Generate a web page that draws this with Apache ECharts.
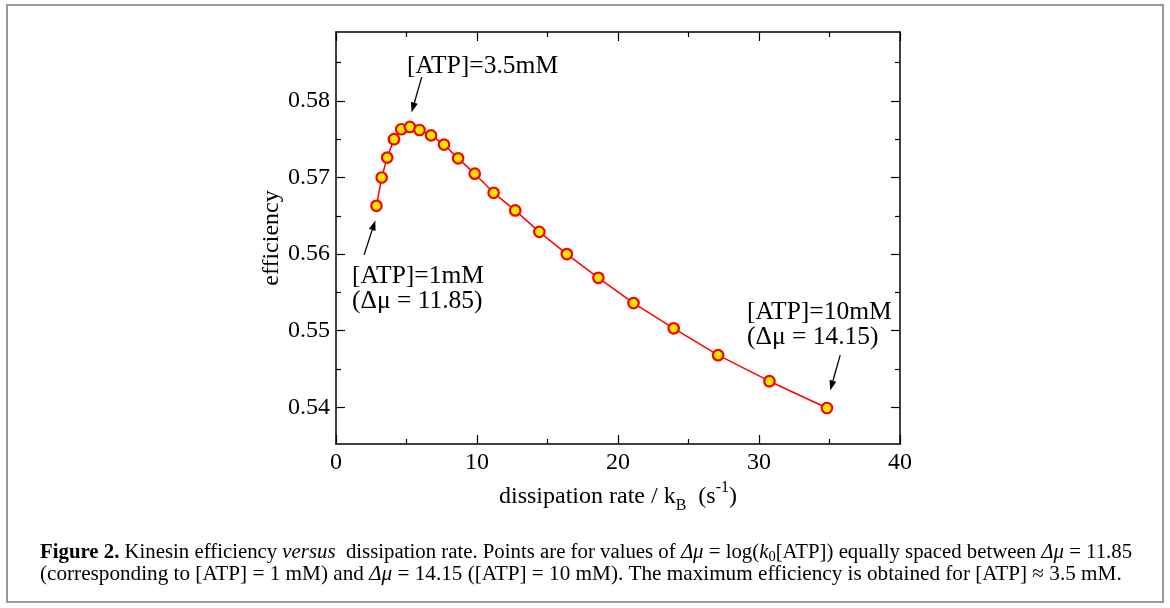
<!DOCTYPE html>
<html>
<head>
<meta charset="utf-8">
<script src="https://cdn.jsdelivr.net/npm/echarts@6/dist/echarts.min.js"></script>
<style>
html,body{margin:0;padding:0;background:#fff;}
#chart{width:1170px;height:608px;}
</style>
</head>
<body>
<div id="chart"></div>
<script>
// ---- data ----
const dissipationRate = [2.87, 3.24, 3.63, 4.11, 4.63, 5.24, 5.92, 6.74, 7.66, 8.66, 9.84, 11.18, 12.71, 14.42, 16.37, 18.61, 21.10, 23.95, 27.10, 30.74, 34.82];
const efficiency = [0.5663, 0.5700, 0.5726, 0.5750, 0.5763, 0.5766, 0.5762, 0.5755, 0.5743, 0.5725, 0.5705, 0.5680, 0.5657, 0.5629, 0.5600, 0.5569, 0.5536, 0.5503, 0.5468, 0.5434, 0.5399];
const yMajorTicks = [0.54, 0.55, 0.56, 0.57, 0.58];
const yMinorTicks = [0.545, 0.555, 0.565, 0.575, 0.585];
const xTickInterval = 10;
const annotations = [
  {lines: ['[ATP]=3.5mM'], from: [6.08, 0.5831], to: [5.36, 0.5785]},
  {lines: ['[ATP]=1mM', '(Δμ = 11.85)'], from: [1.99, 0.5599], to: [2.79, 0.5644]},
  {lines: ['[ATP]=10mM', '(Δμ = 14.15)'], from: [35.76, 0.5468], to: [35.05, 0.5422]}
];
const captionLine1 = '{b|Figure 2.} Kinesin efficiency {i|versus}  dissipation rate. Points are for values of {i|Δμ} = log({i|k}{sub|0}[ATP]) equally spaced between {i|Δμ} = 11.85';
const captionLine2 = '(corresponding to [ATP] = 1 mM) and {i|Δμ} = 14.15 ([ATP] = 10 mM). The maximum efficiency is obtained for [ATP] ≈ 3.5 mM.';

// ---- chart ----
const FONT = '"Liberation Serif", "Times New Roman", serif';
const chart = echarts.init(document.getElementById('chart'), null, {renderer: 'canvas'});
const GRID = {left: 336, top: 32, width: 564, height: 412};
function axisLine(show) { return {show: show, onZero: false, lineStyle: {color: '#000', width: 1.5}}; }

function yAxisDef(pos, ticks, len, labels, lineShow) {
  return {
    type: 'value', position: pos, min: 0.5352, max: 0.589,
    axisLine: axisLine(lineShow),
    splitLine: {show: false},
    axisTick: {show: true, inside: true, length: len, customValues: ticks, lineStyle: {color: '#000', width: 1.2}},
    axisLabel: labels ? {show: true, customValues: ticks, formatter: v => v.toFixed(2), fontFamily: FONT, fontSize: 24, color: '#000', margin: 6} : {show: false},
    name: labels ? 'efficiency' : '',
    nameLocation: 'middle', nameRotate: 90, nameGap: 52,
    nameTextStyle: {fontFamily: FONT, fontSize: 24, color: '#000'}
  };
}
function xAxisDef(pos, labels) {
  return {
    type: 'value', position: pos, min: 0, max: 40, interval: xTickInterval,
    axisLine: axisLine(true),
    splitLine: {show: false},
    axisTick: {show: true, inside: true, length: 9, lineStyle: {color: '#000', width: 1.2}},
    minorTick: {show: true, splitNumber: 2, length: 5, lineStyle: {color: '#000', width: 1.2}},
    minorSplitLine: {show: false},
    axisLabel: labels ? {show: true, fontFamily: FONT, fontSize: 24, color: '#000', margin: 7} : {show: false},
    name: labels ? 'dissipation rate / k{sub|B}  (s{sup|-1})' : '',
    nameLocation: 'middle', nameGap: 28,
    nameTextStyle: {
      fontFamily: FONT, fontSize: 24, color: '#000', lineHeight: 34,
      rich: {
        sub: {fontFamily: FONT, fontSize: 16, color: '#000', verticalAlign: 'bottom', lineHeight: 16},
        sup: {fontFamily: FONT, fontSize: 16, color: '#000', verticalAlign: 'top', lineHeight: 16}
      }
    }
  };
}

const option = {
  animation: false,
  backgroundColor: '#fff',
  grid: GRID,
  xAxis: [xAxisDef('bottom', true), xAxisDef('top', false)],
  yAxis: [
    yAxisDef('left', yMajorTicks, 9, true, true),
    yAxisDef('right', yMajorTicks, 9, false, true),
    yAxisDef('left', yMinorTicks, 5, false, false),
    yAxisDef('right', yMinorTicks, 5, false, false)
  ],
  series: [{
    type: 'line',
    xAxisIndex: 0, yAxisIndex: 0,
    data: dissipationRate.map((x, i) => [x, efficiency[i]]),
    symbol: 'circle', symbolSize: 10.5,
    lineStyle: {color: '#ff0000', width: 1.5},
    itemStyle: {color: '#eaea00', borderColor: '#ff0000', borderWidth: 2.2},
    z: 5
  }]
};
chart.setOption(option);

// annotations positioned from data coordinates
const graphics = [];
graphics.push({type: 'rect', shape: {x: 7, y: 5, width: 1156, height: 597}, style: {fill: 'none', stroke: '#999', lineWidth: 2}, silent: true});

function px(p) { return chart.convertToPixel({xAxisIndex: 0, yAxisIndex: 0}, p); }
function arrow(a, b) {
  const dx = b[0] - a[0], dy = b[1] - a[1];
  const L = Math.hypot(dx, dy), ux = dx / L, uy = dy / L;
  const hl = 10, hw = 3.5;
  const bx = b[0] - ux * hl, by = b[1] - uy * hl;
  graphics.push({type: 'line', shape: {x1: a[0], y1: a[1], x2: bx, y2: by}, style: {stroke: '#000', lineWidth: 1.3}, z: 10});
  graphics.push({type: 'polygon', shape: {points: [[b[0], b[1]], [bx - uy * hw, by + ux * hw], [bx + uy * hw, by - ux * hw]]}, style: {fill: '#000'}, z: 10});
}
const textPos = [[407, 66], [352, 276], [747, 312]];
annotations.forEach((an, k) => {
  arrow(px(an.from), px(an.to));
  an.lines.forEach((t, j) => {
    graphics.push({type: 'text', x: textPos[k][0], y: textPos[k][1] + j * 25,
      style: {text: t, font: '25.5px ' + FONT, fill: '#000', textAlign: 'left', textVerticalAlign: 'middle'}, z: 10});
  });
});

function capRich(fs) {
  return {
    b: {fontFamily: FONT, fontSize: fs, fontWeight: 'bold', fill: '#000'},
    i: {fontFamily: FONT, fontSize: fs, fontStyle: 'italic', fill: '#000'},
    sub: {fontFamily: FONT, fontSize: fs * 0.7, fill: '#000', verticalAlign: 'bottom', lineHeight: fs * 0.7}
  };
}
graphics.push({type: 'text', x: 40, y: 553, style: {text: captionLine1, fontFamily: FONT, fontSize: 20.8, fill: '#000', lineHeight: 24, verticalAlign: 'middle', rich: capRich(20.8)}, z: 10});
graphics.push({type: 'text', x: 40, y: 574, style: {text: captionLine2, fontFamily: FONT, fontSize: 21.2, fill: '#000', lineHeight: 24, verticalAlign: 'middle', rich: capRich(21.2)}, z: 10});

chart.setOption({graphic: graphics});
</script>
</body>
</html>
